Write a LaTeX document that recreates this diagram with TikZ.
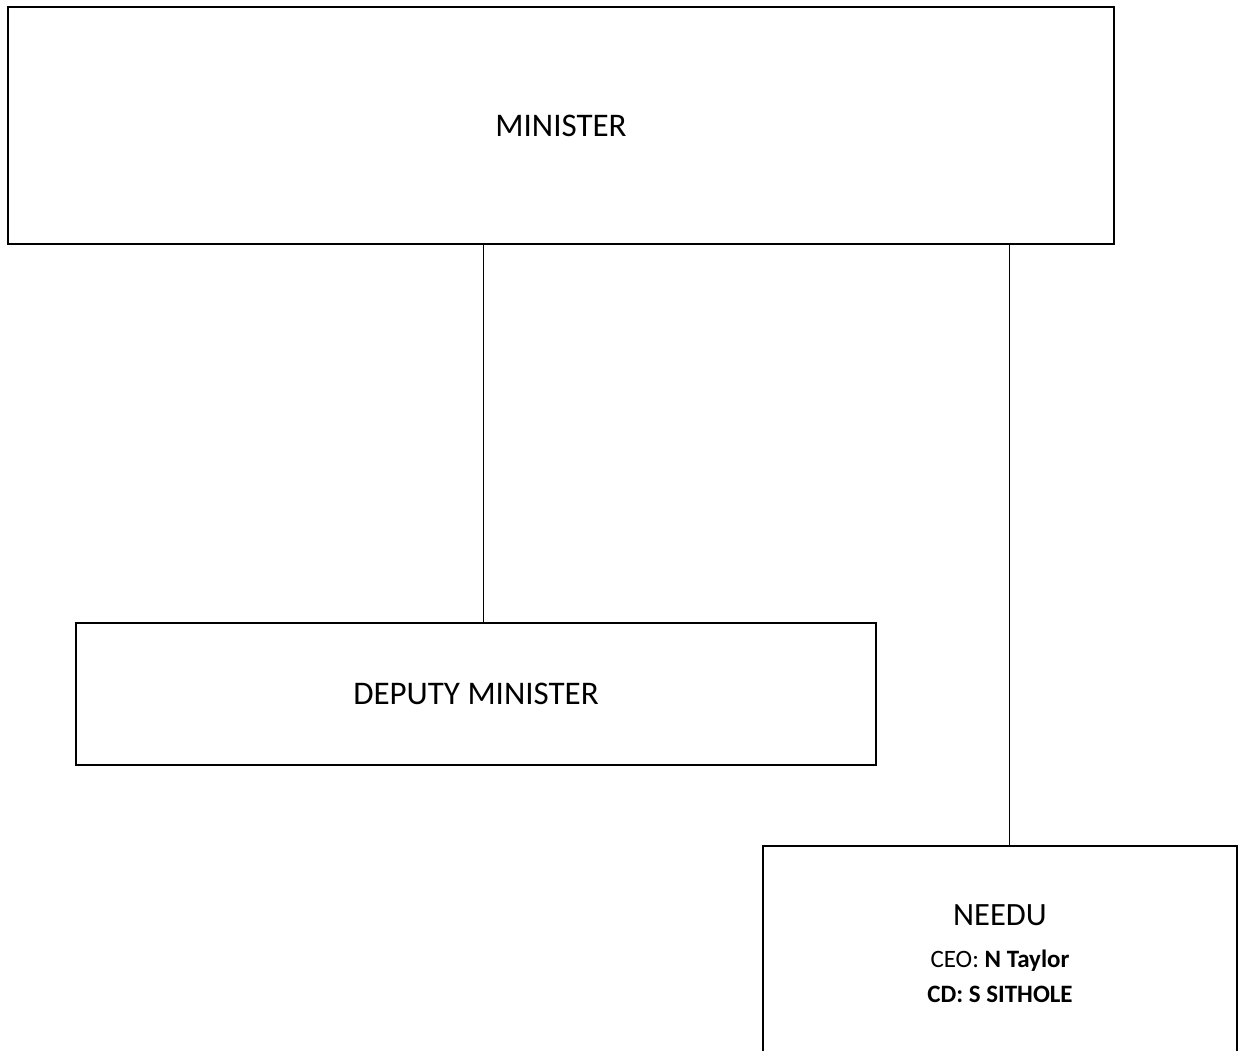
\documentclass[tikz,border=0pt]{standalone}
\usepackage{fontspec}
\setmainfont{Carlito}
\usepackage{tikz}

\tikzset{
  postbox/.style={draw, line width=2pt, rectangle, inner sep=0pt, font=\fontsize{33}{40}\selectfont},
  link/.style={line width=1pt}
}

\begin{document}
\begin{tikzpicture}[x=1pt, y=-1pt]
            \useasboundingbox (0,0) rectangle (1241,1050);
            \clip (0,0) rectangle (1241,1050);

            % Boxes
            \node[postbox, minimum width=1106pt, minimum height=237pt] (minister) at (561,125.5) {MINISTER};
            \node[postbox, minimum width=800pt, minimum height=142pt] (deputy) at (476,694) {DEPUTY MINISTER};
            \node[postbox, minimum width=474pt, minimum height=214pt] (needu) at (1000,953) {};

            % Text in the NEEDU box
            \node[anchor=base, font=\fontsize{32.5}{38}\selectfont] (needuname) at (1000,925) {NEEDU};
            \node[anchor=base, font=\fontsize{25}{30}\selectfont] (ceo) at (1000,967) {CEO: \textbf{N Taylor}};
            \node[anchor=base, font=\fontsize{25}{30}\selectfont\bfseries] (cd) at (1000,1002) {CD: S SITHOLE};

            % Lines
            \draw[link] ([xshift=7pt]deputy.north) -- ([xshift=7pt]deputy.north |- minister.south);
            \draw[link] ([xshift=9pt]needu.north) -- ([xshift=9pt]needu.north |- minister.south);
        \end{tikzpicture}
\end{document}
